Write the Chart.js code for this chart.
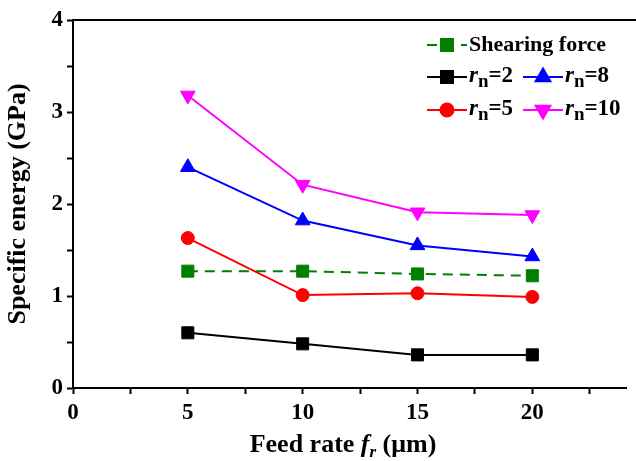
<!DOCTYPE html>
<html>
<head>
<meta charset="utf-8">
<script src="https://cdn.jsdelivr.net/npm/chart.js@4"></script>
<style>
	html, body { margin: 0; padding: 0; background: #fff; }
	#wrap { width: 636px; height: 461px; }
</style>
</head>
<body>
<div id="wrap"><canvas id="energyChart" width="636" height="461"></canvas></div>
<script>
const feedRates = [5, 10, 15, 20]
const shearingForce = [1.27, 1.27, 1.24, 1.22]
const rn2 = [0.60, 0.48, 0.36, 0.36]
const rn5 = [1.63, 1.01, 1.03, 0.99]
const rn8 = [2.40, 1.82, 1.55, 1.43]
const rn10 = [3.18, 2.21, 1.91, 1.88]
const xTicks = [0, 2.5, 5, 7.5, 10, 12.5, 15, 17.5, 20, 22.5]
const yTicks = [0, 0.5, 1, 1.5, 2, 2.5, 3, 3.5, 4]

const SERIF = '"Liberation Serif", "Times New Roman", serif'

const pts = arr => arr.map((v, i) => ({ x: feedRates[i], y: v }))

// legend entries: [dataset index, prefix, subscript, suffix, col, row]
const legendItems = [
	[0, 'Shearing force', '', '', 0, 0],
	[1, 'r', 'n', '=2', 0, 1],
	[3, 'r', 'n', '=8', 1, 1],
	[2, 'r', 'n', '=5', 0, 2],
	[4, 'r', 'n', '=10', 1, 2],
]

const drawMarker = (ctx, ds, x, y) => {
	ctx.save()
	ctx.fillStyle = ds.pointBackgroundColor
	ctx.strokeStyle = ds.pointBackgroundColor
	Chart.helpers.drawPoint(ctx, {
		pointStyle: ds.pointStyle,
		radius: ds.pointRadius,
		rotation: ds.pointRotation || 0,
		borderWidth: 1,
	}, x, y)
	ctx.restore()
}

const extrasPlugin = {
	id: 'extras',
	afterDraw(chart) {
		const ctx = chart.ctx
		const area = chart.chartArea
		ctx.save()
		// top frame line
		ctx.strokeStyle = '#000'
		ctx.lineWidth = 2
		ctx.beginPath()
		ctx.moveTo(area.left - 1, area.top)
		ctx.lineTo(chart.width, area.top)
		ctx.stroke()

		// x title with italic f_r
		ctx.fillStyle = '#000'
		ctx.textBaseline = 'alphabetic'
		const big = 'bold 26px ' + SERIF
		const it = 'italic bold 26px ' + SERIF
		const sub = 'italic bold 17px ' + SERIF
		const parts = [['Feed rate ', big, 0], ['f', it, 0], ['r', sub, 5], [' (μm)', big, 0]]
		let w = 0
		parts.forEach(p => { ctx.font = p[1]; w += ctx.measureText(p[0]).width })
		let x = 343 - w / 2
		const base = 452
		parts.forEach(p => {
			ctx.font = p[1]
			ctx.fillText(p[0], x, base + p[2])
			x += ctx.measureText(p[0]).width
		})

		// legend
		const colX = [427, 523]
		const rowY = [45, 77, 110]
		legendItems.forEach(([di, a, s, b, c, r]) => {
			const ds = chart.data.datasets[di]
			const lx = colX[c]
			const ly = rowY[r]
			ctx.save()
			ctx.strokeStyle = ds.borderColor
			ctx.lineWidth = 2
			ctx.setLineDash(ds.borderDash || [])
			ctx.beginPath()
			ctx.moveTo(lx, ly)
			ctx.lineTo(lx + 40, ly)
			ctx.stroke()
			ctx.restore()
			drawMarker(ctx, ds, lx + 20, ly)
			let tx = lx + 42
			ctx.textBaseline = 'middle'
			if (s) {
				ctx.font = 'italic bold 23px ' + SERIF
				ctx.fillText(a, tx, ly - 1)
				tx += ctx.measureText(a).width
				ctx.font = 'bold 19px ' + SERIF
				ctx.fillText(s, tx, ly + 5)
				tx += ctx.measureText(s).width
				ctx.font = 'bold 23px ' + SERIF
				ctx.fillText(b, tx, ly - 1)
			} else {
				ctx.font = 'bold 22px ' + SERIF
				ctx.fillText(a, tx, ly)
			}
		})
		ctx.restore()
	},
}

const ctx = document.getElementById('energyChart').getContext('2d')
const myChart = new Chart(ctx, {
	type: 'line',
	data: {
		datasets: [
			{
				label: 'Shearing force',
				data: pts(shearingForce),
				borderColor: '#008000',
				backgroundColor: '#008000',
				pointBackgroundColor: '#008000',
				pointBorderColor: '#008000',
				borderDash: [10, 7],
				pointStyle: 'rect',
				pointRadius: 8.5,
			},
			{
				label: 'rn=2',
				data: pts(rn2),
				borderColor: '#000000',
				backgroundColor: '#000000',
				pointBackgroundColor: '#000000',
				pointBorderColor: '#000000',
				pointStyle: 'rect',
				pointRadius: 8.5,
			},
			{
				label: 'rn=5',
				data: pts(rn5),
				borderColor: '#ff0000',
				backgroundColor: '#ff0000',
				pointBackgroundColor: '#ff0000',
				pointBorderColor: '#ff0000',
				pointStyle: 'circle',
				pointRadius: 6.5,
			},
			{
				label: 'rn=8',
				data: pts(rn8),
				borderColor: '#0000ff',
				backgroundColor: '#0000ff',
				pointBackgroundColor: '#0000ff',
				pointBorderColor: '#0000ff',
				pointStyle: 'triangle',
				pointRadius: 8.5,
			},
			{
				label: 'rn=10',
				data: pts(rn10),
				borderColor: '#ff00ff',
				backgroundColor: '#ff00ff',
				pointBackgroundColor: '#ff00ff',
				pointBorderColor: '#ff00ff',
				pointStyle: 'triangle',
				pointRotation: 180,
				pointRadius: 8.5,
			},
		],
	},
	options: {
		responsive: false,
		animation: false,
		layout: { padding: { top: 20, right: 0, left: 0, bottom: 0 } },
		elements: {
			line: { borderWidth: 2, tension: 0 },
			point: { borderWidth: 1 },
		},
		plugins: {
			legend: { display: false },
			tooltip: { enabled: false },
		},
		scales: {
			x: {
				type: 'linear',
				min: 0,
				max: 24.1,
				afterFit: s => { s.height = 73 },
				afterBuildTicks: s => { s.ticks = xTicks.map(v => ({ value: v })) },
				border: { color: '#000', width: 2 },
				grid: { drawOnChartArea: false, tickLength: 6, tickColor: '#000', tickWidth: 2 },
				ticks: {
					color: '#000',
					padding: 5,
					maxRotation: 0,
					autoSkip: false,
					font: { family: SERIF, size: 23, weight: 'bold' },
					callback: v => (v % 5 === 0 ? v : ''),
				},
			},
			y: {
				min: 0,
				max: 4,
				afterFit: s => { s.width = 73 },
				afterBuildTicks: s => { s.ticks = yTicks.map(v => ({ value: v })) },
				border: { color: '#000', width: 2 },
				grid: { drawOnChartArea: false, tickLength: 6, tickColor: '#000', tickWidth: 2 },
				title: {
					display: true,
					text: 'Specific energy (GPa)',
					color: '#000',
					padding: { top: 3, bottom: 0 },
					font: { family: SERIF, size: 26, weight: 'bold' },
				},
				ticks: {
					color: '#000',
					padding: 4,
					autoSkip: false,
					font: { family: SERIF, size: 23, weight: 'bold' },
					callback: v => (v % 1 === 0 ? v : ''),
				},
			},
		},
	},
	plugins: [extrasPlugin],
})
</script>
</body>
</html>
